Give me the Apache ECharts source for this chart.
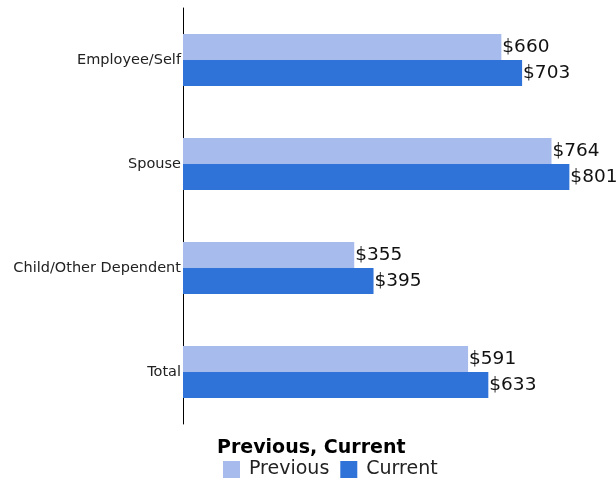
<!DOCTYPE html>
<html>
<head>
<meta charset="utf-8">
<script src="https://cdn.jsdelivr.net/npm/echarts@6/dist/echarts.min.js"></script>
<style>
  html, body { margin: 0; padding: 0; background: #fff; }
  #chart { width: 616px; height: 480px; }
</style>
</head>
<body>
<div id="chart"></div>
<script>
// categories top to bottom
const categories = ['Employee/Self', 'Spouse', 'Child/Other Dependent', 'Total'];
const previousValues = [660, 764, 355, 591];
const currentValues = [703, 801, 395, 633];

const chart = echarts.init(document.getElementById('chart'));

const font = '"DejaVu Sans", Verdana, sans-serif';

const barLabel = {
  show: true,
  position: 'right',
  distance: 1,
  color: '#111',
  fontSize: 18.5,
  fontFamily: font,
  formatter: p => '$' + p.value
};

chart.setOption({
  animation: false,
  title: {
    text: 'Previous, Current',
    left: 217,
    top: 439,
    padding: 0,
    textStyle: { fontSize: 19, fontWeight: 'bold', color: '#000', fontFamily: font }
  },
  legend: {
    left: 223,
    top: 460,
    padding: 0,
    itemWidth: 17,
    itemHeight: 17,
    itemGap: 11,
    icon: 'rect',
    textStyle: { fontSize: 19, color: '#222', fontFamily: font, padding: [0, 0, 0, 4] },
    data: ['Previous', 'Current']
  },
  grid: { left: 183, top: 8, width: 410, height: 416 },
  xAxis: {
    type: 'value',
    min: 0,
    max: 850,
    show: false
  },
  yAxis: {
    type: 'category',
    data: categories,
    inverse: true,
    axisLine: { show: true, lineStyle: { color: '#000', width: 1 } },
    axisTick: { show: false },
    axisLabel: { margin: 2, fontSize: 14.5, color: '#222', fontFamily: font },
    splitLine: { show: false }
  },
  series: [
    {
      name: 'Previous',
      type: 'bar',
      data: previousValues,
      barCategoryGap: '50%',
      barGap: '0%',
      itemStyle: { color: '#a7bcec' },
      label: barLabel
    },
    {
      name: 'Current',
      type: 'bar',
      data: currentValues,
      barCategoryGap: '50%',
      barGap: '0%',
      itemStyle: { color: '#2f73d8' },
      label: barLabel
    }
  ]
});
</script>
</body>
</html>
